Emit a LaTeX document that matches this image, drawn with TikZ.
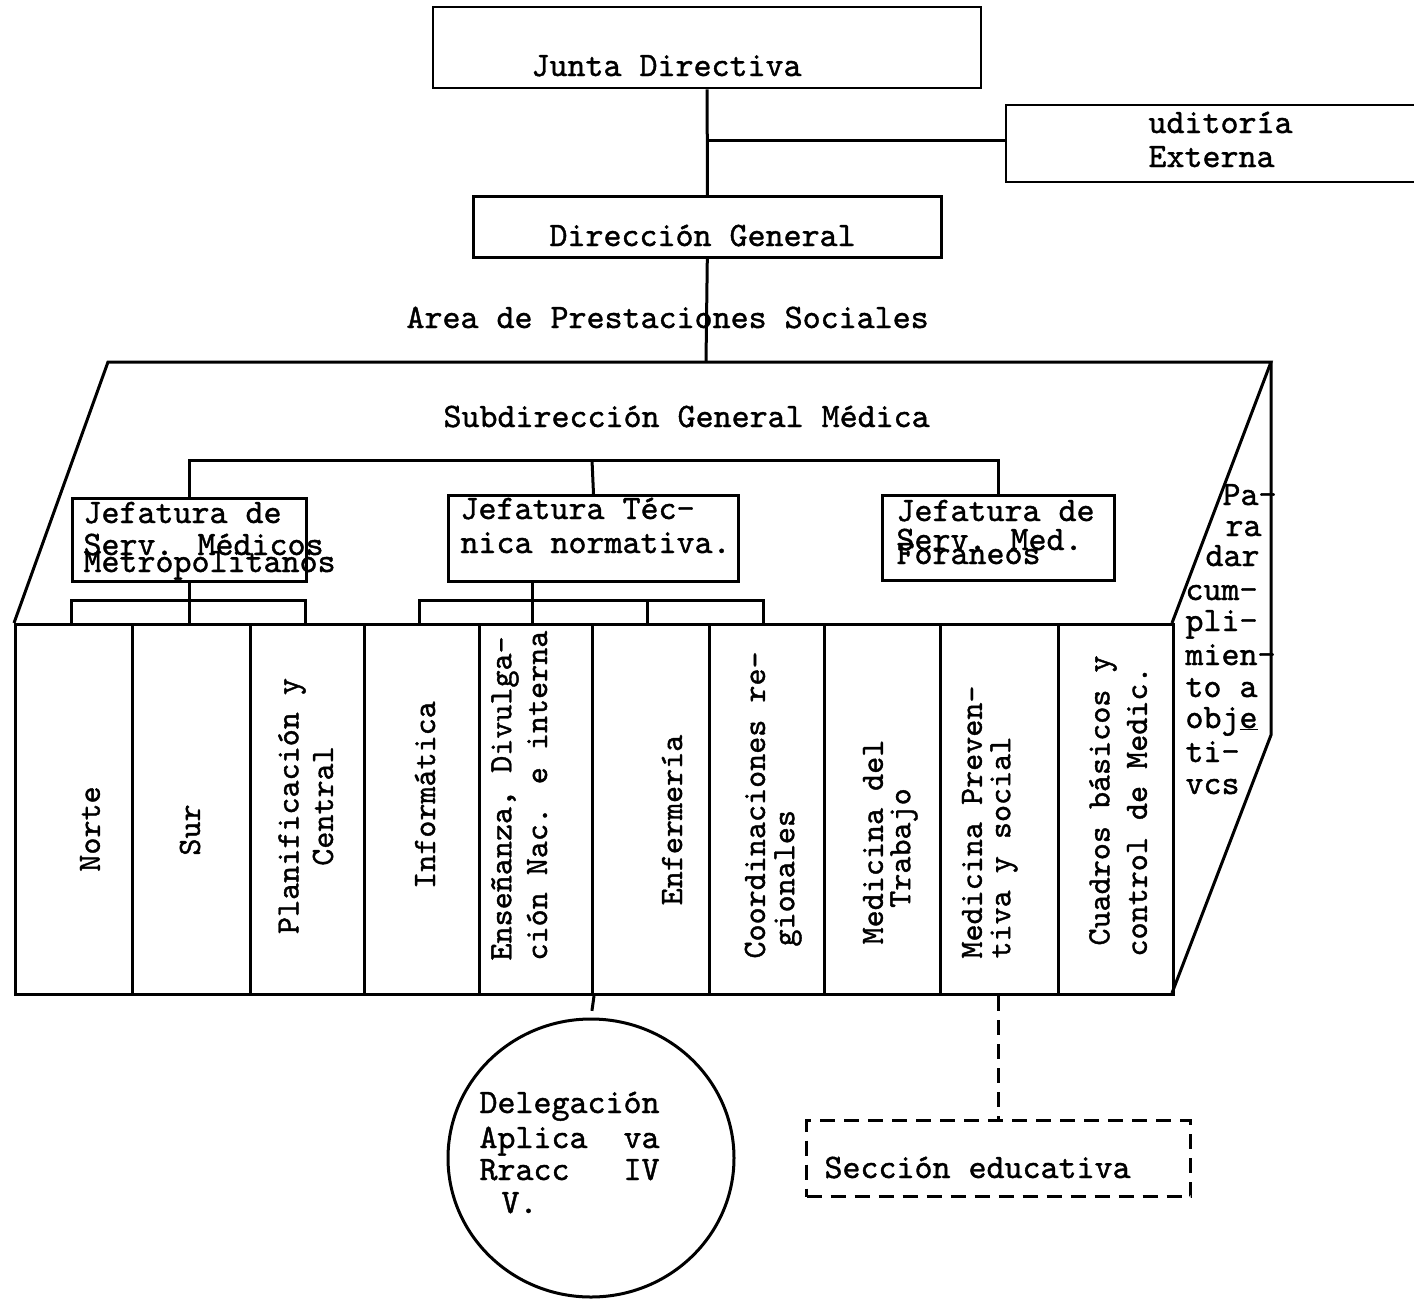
\documentclass[tikz,border=0pt]{standalone}
\usepackage{fontspec}
\newfontfamily\typewriter{lmmono10-regular}[Extension=.otf,FakeBold=1.2]
\usetikzlibrary{shapes.geometric}
\begin{document}
\begin{tikzpicture}[x=1pt,y=-1pt,line width=3pt,
  box/.style={draw,rectangle,inner sep=0pt,anchor=north west},
  colbox/.style={draw,rectangle,inner sep=0pt,anchor=north west,minimum height=370pt},
  txt/.style={font=\typewriter\fontsize{34.3}{37}\selectfont,inner sep=0pt,anchor=base west},
  vtxt/.style={font=\typewriter\fontsize{32.5}{35}\selectfont,inner sep=0pt,rotate=90},
  dlink/.style={draw,dash pattern=on 15pt off 9pt}]
\useasboundingbox (0,0) rectangle (1414,1299);

% ---- upper chain of command
\node[box,line width=2.4pt,minimum width=548pt,minimum height=81pt] (junta) at (432,6) {};
\node[txt] (juntaT) at (530,76) {Junta Directiva};
\node[box,line width=2.4pt,minimum width=430pt,minimum height=77pt] (audit) at (1005,104) {};
\node[txt] (auditA) at (1147,133) {uditoría};
\node[txt] (auditB) at (1147,167) {Externa};
\node[box,line width=2.6pt,minimum width=468pt,minimum height=61pt] (dirgen) at (472,195) {};
\node[txt] (dirgenT) at (548,246) {Dirección General};
\node[txt] (area) at (405,328) {Area de Prestaciones Sociales};

\coordinate (jbranch) at (706,140);
\coordinate (ptop) at (706,362);
\draw (junta.south) -- (dirgen.north);
\draw (jbranch) -- (audit.west |- jbranch);
\draw (dirgen.south) -- (ptop);

% ---- block: top face and right face
\draw[line join=miter] (14,623) -- (108,362) -- (1271,362) -- (1172,623);
\draw[line join=miter] (1271,362) -- (1271,735) -- (1172,993);
\node[txt] (subdir) at (442,427) {Subdirección General Médica};

% ---- heads of service on the top face
\node[box,minimum width=234pt,minimum height=83pt] (jef1) at (71,497) {};
\node[box,minimum width=290pt,minimum height=86pt] (jef2) at (447,494) {};
\node[box,minimum width=232pt,minimum height=85pt] (jef3) at (881,494) {};
\node[txt] (jef1a) at (82,523) {Jefatura de};
\node[txt] (jef1b) at (82,555) {Serv. Médicos};
\node[txt] (jef1c) at (82,572) {Metropolitanos};
\node[txt] (jef2a) at (459,519) {Jefatura Téc-};
\node[txt] (jef2b) at (459,553) {nica normativa.};
\node[txt] (jef3a) at (895,521) {Jefatura de};
\node[txt] (jef3b) at (895,550) {Serv. Med.};
\node[txt] (jef3c) at (895,564) {Foraneos};

\coordinate (bar) at (592,460);
\draw (jef1.north) |- (bar) -| (jef3.north);
\draw (bar) -- (jef2.north);

% ---- front face: ten departments
\foreach \n/\xa/\xb in {1/14/131,2/131/249,3/249/363,4/363/478,5/478/591,
                        6/591/708,7/708/823,8/823/939,9/939/1057,10/1057/1172}
  \node[colbox,minimum width=\xb pt-\xa pt] (col\n) at (\xa,623) {};

% brackets under the heads of service
\coordinate (b1l) at (71,623);  \coordinate (b1m) at (188,600); \coordinate (b1r) at (305,623);
\draw (b1l) |- (b1m) -| (b1r);
\draw (jef1.south) -- (jef1.south |- col1.north);
\coordinate (b2l) at (419,623); \coordinate (b2m) at (532,600); \coordinate (b2r) at (763,623);
\coordinate (b2c) at (647,600);
\draw (b2l) |- (b2m) -| (b2r);
\draw (jef2.south -| b2m) -- (b2m |- col5.north);
\draw (b2c) -- (b2c |- col6.north);

% department labels
\node[vtxt] (tNorte) at (90,829) {Norte};
\node[vtxt] (tSur) at (190,830) {Sur};
\node[vtxt] (tPlanA) at (292,806) {Planificación y};
\node[vtxt] (tPlanB) at (323,806) {Central};
\node[vtxt] (tInfo) at (425,795) {Informática};
\node[vtxt,anchor=west] (tEnsA) at (505,962) {Enseñanza, Divulga-};
\node[vtxt,anchor=west] (tEnsB) at (537,962) {ción Nac. e interna};
\node[vtxt] (tEnf) at (672,820) {Enfermería};
\node[vtxt,anchor=west] (tCoordA) at (755,960) {Coordinaciones re-};
\node[vtxt,anchor=west] (tCoordB) at (788,948) {gionales};
\node[vtxt] (tMTA) at (873,842) {Medicina del};
\node[vtxt] (tMTB) at (904,848) {Trabajo};
\node[vtxt,anchor=west] (tMPA) at (972,960) {Medicina Preven-};
\node[vtxt,anchor=west] (tMPB) at (1004,960) {tiva y social};
\node[vtxt,anchor=west] (tCBA) at (1103,947) {Cuadros básicos y};
\node[vtxt,anchor=west] (tCBB) at (1137,958) {control de Medic.};

% ---- text on the right face
\foreach \k/\px/\py/\w in {1/1221/505/Pa-,2/1224/536/ra,3/1204/566/dar,4/1184/600/cum-,
    5/1184/631/pli-,6/1184/665/mien-,7/1184/697/to a,8/1184/728/obj\underline{e},
    9/1184/762/ti-,10/1184/794/vcs}
  \node[txt] (para\k) at (\px,\py) {\w};

% ---- units below the block
\node[draw,ellipse,inner sep=0pt,minimum width=286pt,minimum height=278pt] (deleg) at (591,1158) {};
\node[txt] (delegA) at (478,1113) {Delegación};
\node[txt] (delegB) at (478,1148) {Aplica\ \ va};
\node[txt] (delegC) at (478,1180) {Rracc\ \ \ IV};
\node[txt] (delegD) at (500,1213) {V.};
\draw[dlink] (col5.south east) -- (deleg.north);

\node[box,dlink,minimum width=384pt,minimum height=76pt] (secc) at (805,1119) {};
\node[txt] (seccT) at (823,1178) {Sección educativa};
\draw[dlink] (secc.north |- col9.south) -- (secc.north);
\end{tikzpicture}
\end{document}
